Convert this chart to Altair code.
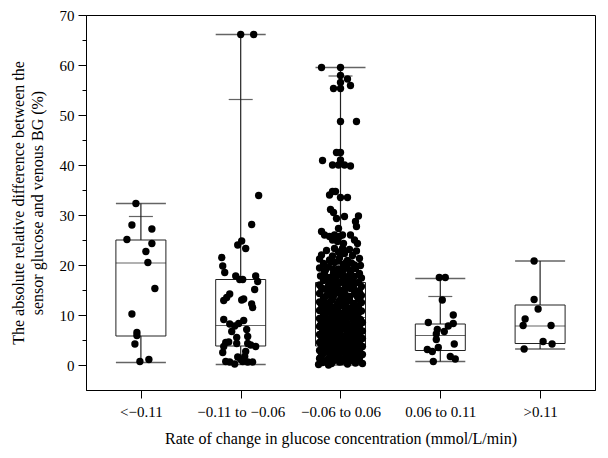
import json
import altair as alt
import pandas as pd

# ---------------- data ----------------
categories = ["<\u22120.11", "\u22120.11 to \u22120.06", "\u22120.06 to 0.06", "0.06 to 0.11", ">0.11"]

# box-plot summaries (%)
q1 = [5.8, 3.8, 3.8, 2.9, 4.3]
median = [20.4, 7.9, 9.5, 5.9, 7.8]
q3 = [25.0, 17.1, 16.5, 8.2, 12.0]
lo = [0.5, 0.1, 0.0, 0.7, 3.2]
hi = [32.3, 66.1, 59.5, 17.3, 20.8]
inner_cap_cat = [0, 1, 2, 3]
inner_cap = [29.7, 53.1, 57.8, 13.7]

# individual observations (%), with their horizontal jitter (hundredths of a category step)
c1_vals = [32.3, 28.0, 27.2, 25.1, 24.3, 22.7, 20.5, 15.3, 10.2, 6.5, 5.9, 4.2, 0.7, 1.1]
c1_jit = [-5, -9, 11, -14, 11, 5, 7, 14, -9, -4, -4, -6, -1, 8]

c2_vals = [66.1, 66.1, 33.9, 28.1, 24.8, 24.0, 23.3, 21.5, 19.8, 18.5, 17.8, 17.1, 17.1, 17.8,
           16.7, 15.1, 14.2, 13.5, 12.9, 13.0, 13.2, 12.2, 11.5, 9.1, 8.2, 7.8, 8.3, 8.9, 6.7,
           7.1, 5.5, 5.7, 4.5, 4.6, 4.3, 4.3, 4.0, 3.7, 3.7, 2.5, 2.7, 1.7, 1.6, 0.7, 0.6, 0.2,
           0.7, 0.6, 0.6, 1.1]
c2_jit = [0, 13, 18, 11, 1, -3, 5, -19, -18, -16, -5, -1, 2, 15,
          17, 14, -11, -14, -17, 1, 3, 11, 12, -17, -11, -6, -2, 3, -9,
          6, -4, 7, -15, -12, -4, 7, 10, 15, -17, -18, 5, 4, -3, -15, -11, -6,
          2, 7, 12, 0]

c3_vals = [59.5, 59.5, 57.9, 57.2, 56.5, 55.9, 55.3, 55.3, 48.7, 48.7, 42.5, 42.5, 40.9, 41.0,
           40.0, 40.0, 40.0, 39.8, 34.7, 34.0, 34.7, 33.5, 33.5, 31.1, 30.5, 29.3, 29.7, 29.8,
           28.7, 27.7, 27.3, 26.7, 26.0, 25.7, 26.0, 25.7, 26.0, 26.0, 25.0, 24.3, 25.0, 24.7,
           24.3, 23.3, 23.3,
           22.9, 23.1, 22.6, 22.8, 22.0, 21.8, 22.3, 21.9,
           21.2, 21.0, 21.4, 20.9, 21.3, 20.3, 20.5, 20.1, 20.4, 19.9,
           19.4, 19.6, 19.2, 19.7, 19.3, 18.6, 18.4, 18.8, 18.5, 18.3,
           17.8, 17.5, 17.9, 17.6, 17.7, 17.4, 16.9, 16.7, 16.6, 16.9, 16.5,
           16.0, 15.9, 16.2, 15.8, 16.1, 15.7, 15.2, 15.0, 14.9, 15.3, 14.8,
           14.3, 14.1, 14.4, 14.0, 14.2, 13.9, 13.4, 13.2, 13.5, 13.1, 13.3,
           12.6, 12.4, 12.2, 12.7, 12.3, 12.5, 11.7, 11.5, 11.8, 11.4, 11.6,
           10.9, 10.7, 10.6, 10.9, 10.5, 10.8, 10.1, 9.9, 10.2, 9.8, 10.0,
           9.3, 9.1, 9.4, 9.0, 9.2, 9.1, 8.5, 8.3, 8.6, 8.2, 8.4, 8.5,
           7.7, 7.5, 7.8, 7.4, 7.6, 7.7, 6.9, 6.7, 6.6, 6.9, 6.5, 6.8,
           6.1, 5.9, 6.2, 5.8, 6.0, 6.1, 5.3, 5.1, 5.4, 5.0, 5.2, 5.3,
           4.5, 4.3, 4.6, 4.2, 4.4, 4.5, 3.7, 3.5, 3.8, 3.4, 3.6, 3.7,
           2.9, 2.7, 3.0, 2.6, 2.8, 2.9, 2.1, 1.9, 2.2, 1.8, 2.0, 2.1,
           1.3, 1.1, 1.4, 1.0, 1.2, 1.3, 0.5, 0.3, 0.6, 0.2, 0.4, 0.3, 0.1,
           19.0, 17.1, 15.5, 13.7, 12.0, 11.1, 9.6, 8.8, 7.2, 6.3, 5.6, 4.8, 4.0, 3.2, 2.4, 1.6, 0.8,
           18.1, 16.3, 14.6, 12.9, 11.3, 9.5, 7.9, 7.0, 5.5, 3.9, 2.3, 0.7,
           20.0, 18.0, 14.5, 10.4, 8.0, 6.4, 4.7, 3.1, 1.5, 0.0,
           0.8, 0.9, 0.7, 0.8, 0.9, 2.4, 2.5, 2.3, 2.4, 2.5,
           4.0, 4.1, 3.9, 4.0, 4.1, 5.6, 5.7, 5.5, 5.6, 5.7,
           7.2, 7.3, 7.1, 7.2, 7.3, 8.8, 8.9, 8.7, 8.8, 8.9,
           10.4, 10.5, 10.3, 10.4, 10.5, 12.0, 12.1, 11.9, 12.0, 12.1,
           13.7, 13.8, 13.6, 13.7, 13.8, 15.4, 15.5, 15.3, 15.4, 15.5,
           17.2, 17.3, 17.1, 17.2, 19.0, 19.1, 18.9, 19.0, 20.7, 20.8, 20.6,
           1.6, 1.7, 1.5, 1.6, 3.2, 3.3, 3.1, 3.2, 4.8, 4.9, 4.7, 4.8,
           6.4, 6.5, 6.3, 6.4, 8.0, 8.1, 7.9, 8.0, 9.6, 9.7, 9.5, 9.6,
           11.2, 11.3, 11.1, 11.2, 12.8, 12.9, 12.7, 12.8, 14.5, 14.6, 14.4,
           16.2, 16.3, 16.1, 18.0, 17.9]
c3_jit = [-19, 0, 0, 7, 0, 10, -7, 0, 0, 16, -4, 0, -18, 0,
          -8, -2, 4, 10, -8, -11, -5, 0, 7, -10, -7, -4, 4, 18,
          15, 16, -2, -19, -16, -11, -6, -1, 2, 10, 14, 17, -8, -3,
          3, -6, 2,
          -14, 9, -2, 16, -19, -8, 4, 12,
          -21, -11, -1, 7, 19, -17, -6, 3, 11, 20,
          -21, -12, -2, 6, 15, -16, -7, 2, 10, 19,
          -20, -11, -3, 6, 14, 21, -17, -8, 1, 9, 18,
          -21, -12, -4, 5, 13, 21, -17, -8, 1, 10, 18,
          -21, -13, -4, 5, 14, 21, -17, -8, 1, 9, 18,
          -21, -12, -3, 6, 14, 21, -16, -7, 2, 10, 18,
          -21, -12, -3, 6, 14, 21, -17, -8, 1, 9, 17,
          -21, -13, -4, 4, 12, 20, -17, -9, -1, 7, 15, 22,
          -21, -13, -5, 3, 11, 19, -17, -9, -1, 7, 15, 22,
          -21, -13, -5, 3, 11, 19, -18, -9, -1, 7, 15, 22,
          -21, -13, -5, 3, 11, 19, -17, -9, -1, 7, 15, 22,
          -21, -13, -5, 3, 11, 19, -18, -9, -1, 7, 15, 22,
          -21, -13, -5, 3, 11, 19, -18, -9, -1, 7, 15, 22, -22,
          -4, 12, -9, 17, 3, -15, 8, -6, 16, -11, 1, 13, -19, 5, -3, 18, -13,
          -16, 4, 19, -1, -7, 14, 2, -18, 9, -2, 20, -8,
          14, 1, -9, 18, -20, 12, -14, 9, -20, -12,
          -15, -7, 1, 9, 17, -19, -11, -3, 5, 13,
          -15, -7, 1, 9, 17, -19, -11, -3, 5, 13,
          -15, -7, 1, 9, 17, -19, -11, -3, 5, 13,
          -15, -7, 1, 9, 17, -19, -11, -3, 5, 13,
          -15, -7, 1, 9, 17, -19, -11, -3, 5, 13,
          -13, -5, 3, 11, -15, -7, 1, 9, -10, -2, 6,
          -11, -3, 5, 13, -17, -9, -1, 7, -11, -3, 5, 13,
          -17, -9, -1, 7, -11, -3, 5, 13, -17, -9, -1, 7,
          -11, -3, 5, 13, -17, -9, -1, 7, -12, -4, 4,
          -10, -2, 6, -6, 3]

c4_vals = [17.5, 17.5, 13.0, 10.0, 8.5, 8.3, 7.8, 7.1, 6.7, 6.2, 5.1, 4.2, 3.5, 3.1, 2.7, 1.7, 1.2, 0.7]
c4_jit = [-1, 5, 2, 13, -12, 13, 8, -3, 4, -4, -4, 14, -2, -13, -8, 10, 15, -7]

c5_vals = [20.8, 13.1, 11.2, 9.2, 7.9, 7.9, 4.7, 4.2, 3.2]
c5_jit = [-6, -6, -2, -15, -17, 11, 3, 12, -16]

y_major = [0, 10, 20, 30, 40, 50, 60, 70]
y_minor = [5, 15, 25, 35, 45, 55, 65]

# ---------------- tables ----------------
rows = []
for i, (vals, jit) in enumerate([(c1_vals, c1_jit), (c2_vals, c2_jit), (c3_vals, c3_jit),
                                 (c4_vals, c4_jit), (c5_vals, c5_jit)]):
    for v, j in zip(vals, jit):
        rows.append({"pos": i + j / 100.0, "value": v})
points = pd.DataFrame(rows)

stats = pd.DataFrame({"pos": list(range(len(categories))), "q1": q1, "median": median,
                      "q3": q3, "lo": lo, "hi": hi})
inner = pd.DataFrame({"pos": inner_cap_cat, "cap": inner_cap})

FONT = "Liberation Serif"
label_expr = json.dumps(categories, ensure_ascii=False) + "[datum.value]"

x_enc = alt.X("pos:Q", scale=alt.Scale(domain=[-0.5, 4.5], nice=False, zero=False),
              axis=alt.Axis(values=[0, 1, 2, 3, 4], labelExpr=label_expr, tickSize=8,
                            labelPadding=6, titlePadding=11,
                            title="Rate of change in glucose concentration (mmol/L/min)"))
y_scale = alt.Scale(domain=[-5, 70], nice=False, zero=False)

main_y_axis = alt.Axis(values=y_major, tickSize=8, labelPadding=4, titlePadding=14, orient="left",
                       title=["The absolute relative difference between the",
                              "sensor glucose and  venous BG (%)"])
minor_y_axis = alt.Axis(values=y_minor, tickSize=4, labels=False, domain=False,
                        title=None, orient="left", grid=False)

box = alt.Chart(stats).mark_bar(size=50, fill="white", fillOpacity=0, stroke="#222",
                                strokeWidth=1).encode(
    x=x_enc, y=alt.Y("q1:Q", scale=y_scale, axis=None), y2="q3:Q")

med = alt.Chart(stats).mark_tick(orient="horizontal", size=50, thickness=1, color="#222").encode(
    x=x_enc, y=alt.Y("median:Q", scale=y_scale, axis=None))

whisk_up = alt.Chart(stats).mark_rule(color="#222", strokeWidth=1.2).encode(
    x=x_enc, y=alt.Y("q3:Q", scale=y_scale, axis=minor_y_axis), y2="hi:Q")
whisk_lo = alt.Chart(stats).mark_rule(color="#222", strokeWidth=1.2).encode(
    x=x_enc, y=alt.Y("q1:Q", scale=y_scale, axis=None), y2="lo:Q")

cap_hi = alt.Chart(stats).mark_tick(orient="horizontal", size=50, thickness=1.3, color="#222").encode(
    x=x_enc, y=alt.Y("hi:Q", scale=y_scale, axis=None))
cap_lo = alt.Chart(stats).mark_tick(orient="horizontal", size=50, thickness=1.3, color="#222").encode(
    x=x_enc, y=alt.Y("lo:Q", scale=y_scale, axis=None))
cap_in = alt.Chart(inner).mark_tick(orient="horizontal", size=24, thickness=1.2, color="#222").encode(
    x=x_enc, y=alt.Y("cap:Q", scale=y_scale, axis=None))

dots = alt.Chart(points).mark_circle(size=54, color="black", opacity=1).encode(
    x=x_enc, y=alt.Y("value:Q", scale=y_scale, axis=main_y_axis))

chart = alt.layer(box, med, whisk_up, whisk_lo, cap_hi, cap_lo, cap_in, dots).resolve_axis(
    y="independent"
).properties(
    width=509, height=375,
    autosize=alt.AutoSizeParams(type="none"),
    padding={"left": 78, "top": 7, "right": 5, "bottom": 60},
).configure_view(
    stroke="black", strokeWidth=1
).configure_axis(
    labelFont=FONT, titleFont=FONT, labelFontSize=15, titleFontSize=16,
    titleFontWeight="normal", labelColor="black", titleColor="black",
    domainColor="black", tickColor="black", grid=False, titleLineHeight=19,
)

chart.save("out.html", embed_options={"renderer": "svg", "actions": False})
